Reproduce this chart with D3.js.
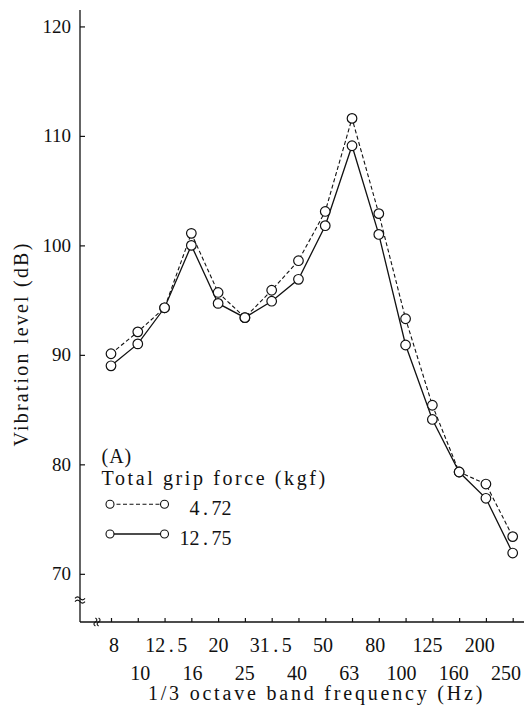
<!DOCTYPE html>
<html>
<head>
<meta charset="utf-8">
<script src="https://cdn.jsdelivr.net/npm/d3@7"></script>
<style>
  html, body { margin: 0; padding: 0; background: #fff; }
  svg { display: block; }
</style>
</head>
<body>
<svg id="chart" width="526" height="711"></svg>
<script>
// 1/3 octave band centre frequencies (Hz)
const bands = ["8", "10", "12.5", "16", "20", "25", "31.5", "40", "50", "63", "80", "100", "125", "160", "200", "250"];
// Vibration level (dB) at total grip force 4.72 kgf
const grip472 = [90.1, 92.1, 94.3, 101.1, 95.7, 93.4, 95.9, 98.6, 103.1, 111.6, 102.9, 93.3, 85.4, 79.3, 78.2, 73.4];
// Vibration level (dB) at total grip force 12.75 kgf
const grip1275 = [89.0, 91.0, 94.3, 100.0, 94.7, 93.4, 94.9, 96.9, 101.8, 109.1, 101.0, 90.9, 84.1, 79.3, 76.9, 71.9];
const yTicks = [70, 80, 90, 100, 110, 120];
const seriesNames = ["4.72", "12.75"];
const panelLabel = "(A)";
const legendTitle = "Total grip force (kgf)";
const yTitle = "Vibration level (dB)";
const xTitle = "1/3 octave band frequency (Hz)";

const serif = "'Liberation Serif', cursive";
const svg = d3.select("#chart");
const plotLeft = 80, plotBottom = 622, plotTop = 10, plotRight = 524;

const x = d3.scalePoint().domain(bands).range([plotLeft + 31, plotLeft + 432.7]);
// tick labels sit on a slightly tighter pitch than the ticks themselves
const xLabel = d3.scalePoint().domain(bands).range([plotLeft + 34, plotLeft + 426]);
const y = d3.scaleLinear().domain([65.6, 121.5]).range([plotBottom, plotTop]);

const ink = "#111";

// Axis lines
svg.append("line").attr("x1", plotLeft).attr("x2", plotLeft).attr("y1", plotTop).attr("y2", plotBottom)
  .attr("stroke", ink).attr("stroke-width", 1.3);
svg.append("line").attr("x1", plotLeft).attr("x2", plotRight).attr("y1", plotBottom).attr("y2", plotBottom)
  .attr("stroke", ink).attr("stroke-width", 1.3);

// Y axis ticks and labels
const yAxis = svg.append("g").attr("transform", `translate(${plotLeft},0)`)
  .call(d3.axisLeft(y).tickValues(yTicks).tickSize(-5).tickPadding(9));
yAxis.select(".domain").remove();
yAxis.selectAll(".tick line").attr("stroke", ink).attr("stroke-width", 1.2);
yAxis.selectAll(".tick text").attr("font-size", 19).attr("fill", ink);

// X axis ticks (labels drawn on two rows below)
const xAxis = svg.append("g").attr("transform", `translate(0,${plotBottom})`)
  .call(d3.axisBottom(x).tickSize(-4).tickFormat(""));
xAxis.select(".domain").remove();
xAxis.selectAll(".tick line").attr("stroke", ink).attr("stroke-width", 1.2);

// Numbers with a widened decimal point
function spacedNumber(sel, str, gap) {
  const parts = str.split(".");
  if (parts.length === 1) { sel.text(str); return; }
  sel.append("tspan").text(parts[0]);
  sel.append("tspan").attr("dx", gap).text(".");
  sel.append("tspan").attr("dx", gap).text(parts[1]);
}

svg.append("g").selectAll("text").data(bands).join("text")
  .attr("x", d => xLabel(d))
  .attr("y", (d, i) => plotBottom + (i % 2 === 0 ? 29.5 : 57.5))
  .attr("text-anchor", "middle")
  .attr("font-size", 20)
  .each(function (d) { spacedNumber(d3.select(this), d, 3.5); });

// Axis break marks
const brk = svg.append("g").attr("fill", "none").attr("stroke", ink).attr("stroke-width", 1.1);
[-1.6, 1.6].forEach(o => {
  brk.append("path").attr("d", `M${plotLeft - 5},${599 + o + 1} q2.5,-3 5,0 t5,0`);
  brk.append("path").attr("d", `M${98 + o - 1},${plotBottom + 4} q-3,-2 0,-4 t0,-4`);
});

// Series lines and markers
const line = d3.line().x((d, i) => x(bands[i])).y(d => y(d));
const series = [
  { values: grip472, dash: "4,2.5", width: 1.1 },
  { values: grip1275, dash: null, width: 1.3 }
];
series.forEach(s => {
  svg.append("path").datum(s.values).attr("d", line)
    .attr("fill", "none").attr("stroke", ink).attr("stroke-width", s.width)
    .attr("stroke-dasharray", s.dash);
});
series.forEach(s => {
  svg.append("g").selectAll("circle").data(s.values).join("circle")
    .attr("cx", (d, i) => x(bands[i])).attr("cy", d => y(d)).attr("r", 4.8)
    .attr("fill", "#fff").attr("stroke", ink).attr("stroke-width", 1.2);
});

// Legend
const lg = svg.append("g");
lg.append("text").attr("x", 101.5).attr("y", 463).attr("font-size", 20).attr("letter-spacing", 1).text(panelLabel);
lg.append("text").attr("x", 101.5).attr("y", 485).attr("font-size", 20).attr("letter-spacing", 2.6).text(legendTitle);
[504.3, 534].forEach((ly, i) => {
  lg.append("line").attr("x1", 110).attr("x2", 164.5).attr("y1", ly).attr("y2", ly)
    .attr("stroke", ink).attr("stroke-width", series[i].width)
    .attr("stroke-dasharray", series[i].dash);
  [110, 164.5].forEach(cx => lg.append("circle").attr("cx", cx).attr("cy", ly).attr("r", 4)
    .attr("fill", "#fff").attr("stroke", ink).attr("stroke-width", 1.1));
  lg.append("text").attr("x", 231.5).attr("y", ly + 11).attr("text-anchor", "end")
    .attr("font-size", 20)
    .each(function () { spacedNumber(d3.select(this), seriesNames[i], 3.5); });
});

// Axis titles
svg.append("text").attr("transform", "translate(28,344) rotate(-90)")
  .attr("text-anchor", "middle").attr("font-size", 20).attr("letter-spacing", 2.2).text(yTitle);
svg.append("text").attr("x", 316.5).attr("y", 699.5)
  .attr("text-anchor", "middle").attr("font-size", 20).attr("letter-spacing", 2.8).text(xTitle);

// Serif face on every label
svg.selectAll("text").style("font-family", serif).style("fill", ink);
</script>
</body>
</html>
